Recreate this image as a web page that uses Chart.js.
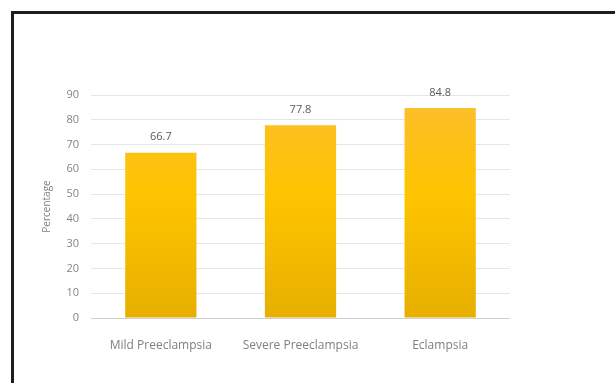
<!DOCTYPE html>
<html>
<head>
<meta charset="utf-8">
<script src="https://cdn.jsdelivr.net/npm/chart.js@4"></script>
<style>
  html, body { margin: 0; padding: 0; background: #fff; }
  #wrap { position: relative; width: 615px; height: 383px; overflow: hidden; }
  #frame {
    position: absolute; left: 11px; top: 11px; width: 620px; height: 390px;
    border-top: 3px solid #1e1e1e; border-left: 3px solid #1e1e1e;
  }
  #cv { position: absolute; left: 0; top: 0; }
</style>
</head>
<body>
<div id="wrap">
  <div id="frame"></div>
  <canvas id="cv" width="615" height="383"></canvas>
</div>
<script>
const categories = ['Mild Preeclampsia', 'Severe Preeclampsia', 'Eclampsia'];
const percentages = [66.7, 77.8, 84.8];
const yTicks = [0, 10, 20, 30, 40, 50, 60, 70, 80, 90];

const FONT = '"Open Sans", "Liberation Sans", sans-serif';

// excel-ish yellow gradient over the plot area
function barFill(ctx) {
  const area = ctx.chart.chartArea;
  if (!area) return '#FFC300';
  const g = ctx.chart.ctx.createLinearGradient(0, area.top, 0, area.bottom);
  g.addColorStop(0, '#FBBE2E');
  g.addColorStop(0.45, '#FFC400');
  g.addColorStop(1, '#E6AF00');
  return g;
}

const valueLabels = {
  id: 'valueLabels',
  afterDatasetsDraw(chart) {
    const c = chart.ctx;
    const meta = chart.getDatasetMeta(0);
    c.save();
    c.font = '11px ' + FONT;
    c.fillStyle = '#595959';
    c.textAlign = 'center';
    c.textBaseline = 'bottom';
    meta.data.forEach((bar, i) => {
      c.fillText(percentages[i].toFixed(1), bar.x, bar.y - 10);
    });
    c.restore();
  }
};

new Chart(document.getElementById('cv'), {
  type: 'bar',
  data: {
    labels: categories,
    datasets: [{
      data: percentages,
      backgroundColor: barFill,
      borderWidth: 0,
      barPercentage: 1,
      categoryPercentage: 0.51
    }]
  },
  options: {
    responsive: false,
    animation: false,
    layout: { padding: { left: 41, right: 105, top: 95, bottom: 20 } },
    plugins: { legend: { display: false }, tooltip: { enabled: false } },
    scales: {
      x: {
        grid: { display: false },
        border: { display: false },
        ticks: { color: '#7f7f7f', font: { family: FONT, size: 12 }, padding: 12 },
        afterFit(scale) { scale.height = 45; }
      },
      y: {
        min: 0,
        max: 90,
        afterBuildTicks(scale) { scale.ticks = yTicks.map(v => ({ value: v })); },
        grid: {
          color: ctx => ctx.tick && ctx.tick.value === 0 ? '#d0d0d0' : '#e6e6e6',
          drawTicks: false
        },
        border: { display: false },
        ticks: { color: '#858585', font: { family: FONT, size: 11 }, padding: 12 },
        title: {
          display: true,
          text: 'Percentage',
          color: '#7f7f7f',
          font: { family: FONT, size: 10 },
          padding: 0
        },
        afterFit(scale) { scale.width = 50; }
      }
    }
  },
  plugins: [valueLabels]
});
</script>
</body>
</html>
